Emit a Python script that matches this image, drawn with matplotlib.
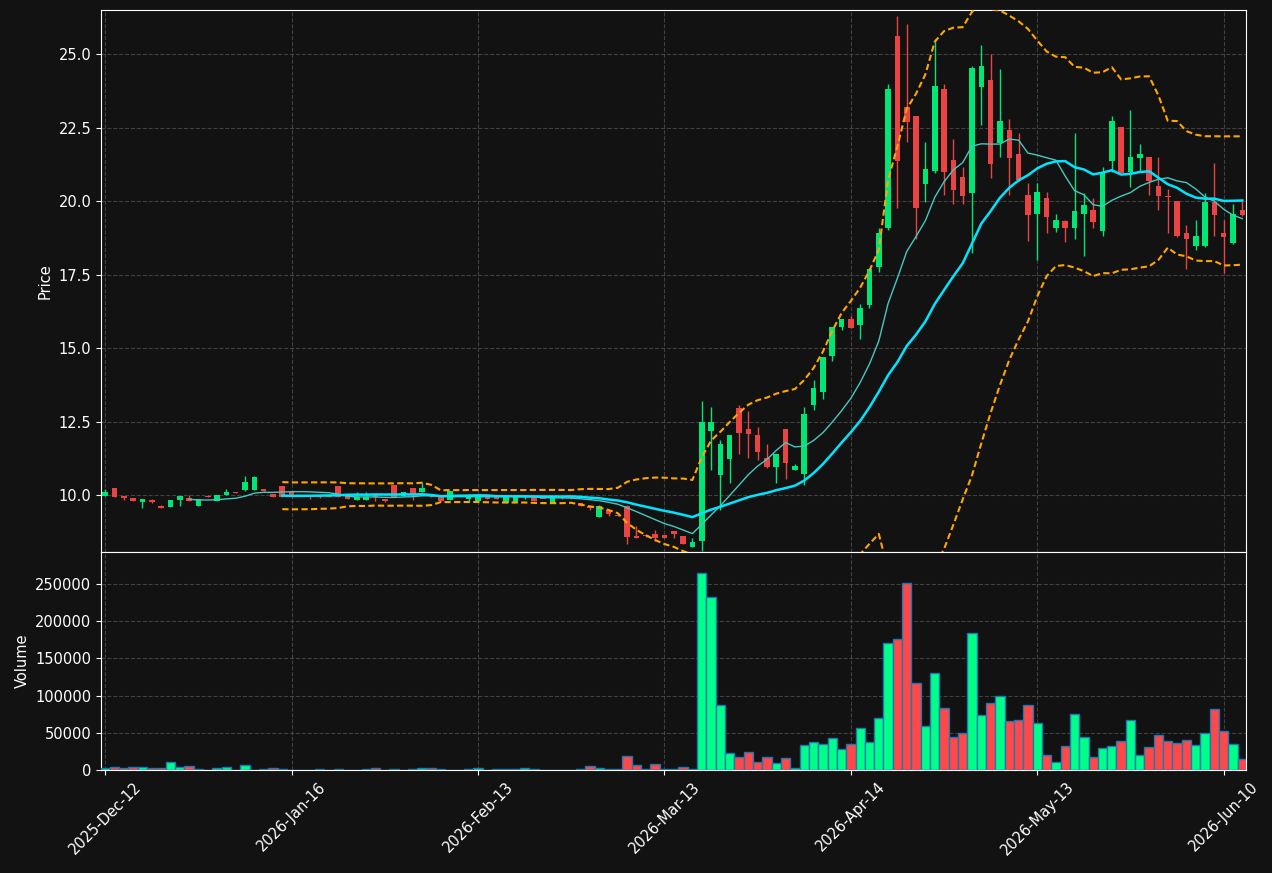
import matplotlib

matplotlib.use("Agg")
import matplotlib.pyplot as plt
import numpy as np
import pandas as pd

# OHLC per trading bar (index 0 = 2025-Dec-12).
OPENS = [
    9.98, 10.24, 9.97, 9.90, 9.76, 9.84, 9.63, 9.60, 9.83, 9.90,
    9.64, 9.98, 9.81, 10.00, 10.10, 10.17, 10.17, 10.20, 10.03, 10.31,
    10.10, 9.98, 9.98, 9.98, 10.00, 10.31, 9.98, 9.84, 9.84, 10.00,
    9.86, 10.34, 9.97, 10.24, 10.10, 10.00, 9.97, 9.83, 10.00, 9.87,
    9.81, 9.94, 9.94, 9.74, 9.77, 9.92, 9.94, 9.87, 9.74, 9.92,
    9.92, 9.72, 9.63, 9.26, 9.49, 9.31, 9.64, 8.62, 8.65, 8.66,
    8.64, 8.78, 8.61, 8.24, 8.45, 12.19, 10.69, 11.23, 12.96, 12.24,
    12.04, 11.26, 10.96, 12.24, 10.86, 10.73, 13.07, 13.50, 14.74, 15.71,
    15.99, 15.78, 16.47, 17.77, 19.09, 25.61, 23.20, 22.89, 20.59, 21.04,
    23.81, 21.39, 20.82, 20.28, 23.89, 24.12, 21.96, 22.41, 21.60, 20.20,
    19.56, 20.09, 19.09, 19.32, 19.09, 19.55, 19.69, 18.99, 21.36, 22.52,
    21.00, 21.47, 21.50, 20.51, 20.17, 20.00, 18.92, 18.48, 18.48, 19.98,
    18.92, 18.58, 19.69,
]
HIGHS = [
    10.19, 10.25, 9.98, 9.91, 9.87, 9.85, 9.66, 9.84, 9.98, 9.99,
    9.86, 9.99, 10.01, 10.20, 10.11, 10.65, 10.65, 10.21, 10.04, 10.32,
    10.11, 10.00, 9.99, 9.99, 10.01, 10.32, 9.99, 10.10, 10.10, 10.01,
    9.87, 10.35, 10.11, 10.25, 10.40, 10.01, 9.98, 10.15, 10.01, 10.05,
    9.95, 9.95, 9.95, 9.95, 9.95, 9.96, 9.95, 9.88, 9.95, 9.93,
    9.93, 9.73, 9.64, 9.65, 9.50, 9.32, 9.65, 8.96, 8.66, 8.80,
    8.65, 8.79, 8.62, 8.52, 13.19, 12.98, 11.88, 12.05, 13.05, 12.86,
    12.32, 11.73, 11.40, 12.25, 11.05, 12.98, 13.91, 14.70, 15.71, 15.99,
    16.08, 16.50, 17.72, 19.07, 24.00, 26.29, 26.02, 22.90, 22.00, 25.50,
    24.00, 22.10, 21.17, 24.60, 25.30, 25.00, 24.50, 22.80, 22.30, 20.60,
    20.60, 20.31, 19.55, 19.35, 22.30, 20.29, 20.09, 21.17, 22.89, 22.53,
    23.10, 21.95, 21.51, 21.50, 20.40, 20.01, 19.17, 19.34, 20.29, 21.28,
    19.34, 19.90, 20.00,
]
LOWS = [
    9.97, 9.93, 9.82, 9.79, 9.57, 9.74, 9.56, 9.58, 9.64, 9.79,
    9.63, 9.93, 9.80, 9.99, 10.07, 10.12, 10.16, 10.12, 9.93, 9.93,
    9.93, 9.95, 9.88, 9.90, 9.93, 9.93, 9.85, 9.83, 9.83, 9.79,
    9.76, 9.93, 9.96, 9.83, 10.09, 9.93, 9.78, 9.82, 9.97, 9.80,
    9.80, 9.86, 9.85, 9.73, 9.76, 9.88, 9.78, 9.85, 9.73, 9.88,
    9.88, 9.62, 9.50, 9.25, 9.30, 9.27, 8.32, 8.54, 8.58, 8.42,
    8.54, 8.52, 8.33, 8.23, 8.10, 10.85, 9.49, 10.40, 11.38, 11.25,
    11.19, 10.92, 10.40, 10.53, 10.85, 10.33, 12.88, 13.27, 14.56, 15.60,
    15.68, 15.30, 16.35, 17.60, 19.00, 19.78, 22.00, 18.70, 19.98, 20.95,
    20.20, 19.89, 19.89, 18.25, 22.60, 20.80, 21.50, 20.20, 20.70, 18.64,
    18.00, 18.90, 18.95, 18.60, 18.70, 18.14, 19.10, 18.80, 21.00, 20.95,
    20.49, 21.00, 20.20, 19.70, 18.92, 18.78, 17.68, 18.34, 18.45, 18.80,
    17.56, 18.55, 19.50,
]
CLOSES = [
    10.10, 9.94, 9.91, 9.81, 9.86, 9.75, 9.57, 9.83, 9.97, 9.80,
    9.85, 9.94, 10.00, 10.10, 10.08, 10.43, 10.61, 10.13, 9.94, 9.94,
    9.94, 9.96, 9.94, 9.94, 9.94, 9.94, 9.86, 9.94, 9.94, 9.92,
    9.81, 9.94, 10.10, 10.03, 10.24, 9.94, 9.81, 10.14, 9.98, 9.97,
    9.94, 9.87, 9.86, 9.94, 9.94, 9.94, 9.79, 9.86, 9.94, 9.90,
    9.90, 9.63, 9.56, 9.64, 9.35, 9.28, 8.58, 8.55, 8.59, 8.54,
    8.55, 8.67, 8.34, 8.41, 12.48, 12.48, 11.73, 12.04, 12.12, 12.09,
    11.47, 10.96, 11.39, 11.08, 10.99, 12.76, 13.64, 14.69, 15.70, 15.98,
    15.69, 16.35, 17.70, 18.90, 23.81, 21.37, 22.70, 19.77, 21.09, 23.91,
    20.99, 20.37, 20.18, 24.52, 24.59, 21.26, 22.72, 21.47, 20.71, 19.52,
    20.31, 19.47, 19.35, 19.09, 19.66, 19.86, 19.30, 20.97, 22.72, 20.97,
    21.50, 21.60, 20.68, 20.17, 20.15, 18.81, 18.72, 18.81, 19.98, 19.52,
    18.79, 19.56, 19.52,
]
VOLUMES = [
    2200, 3600, 2200, 3600, 3600, 2200, 2200, 10300, 3600, 4900,
    900, 300, 2200, 3600, 200, 6300, 200, 900, 2200, 900,
    300, 200, 300, 900, 300, 900, 300, 300, 900, 2200,
    300, 900, 300, 900, 2200, 2200, 900, 300, 200, 900,
    2200, 200, 900, 900, 900, 2200, 900, 200, 300, 200,
    200, 900, 4900, 2200, 900, 900, 18800, 6300, 900, 7600,
    900, 900, 4500, 1300, 264400, 232000, 87000, 22400, 17000, 23700,
    10300, 17000, 9000, 15700, 2200, 33200, 37200, 34500, 42600, 27800,
    34500, 56000, 37200, 69500, 170300, 175600, 250900, 116500, 58700, 130000,
    82900, 43900, 49300, 183700, 73500, 89600, 99000, 65400, 66800, 86900,
    62700, 19700, 10300, 31800, 74800, 43900, 17000, 29100, 31800, 38500,
    66800, 19700, 30500, 46600, 38500, 35800, 39900, 33200, 49300, 81500,
    52000, 34500, 14300,
]
TICK_LABELS = ["2025-Dec-12", "2026-Jan-16", "2026-Feb-13", "2026-Mar-13",
               "2026-Apr-14", "2026-May-13", "2026-Jun-10"]

BG = "#121212"
UP, DOWN = "#00e676", "#ea4343"
VOL_UP, VOL_DOWN = "#00ff88", "#ff4848"
FONT_SIZE = 10.5

plt.rcParams.update({
    "font.family": "DejaVu Sans",
    "font.size": FONT_SIZE,
    "text.color": "white",
    "axes.labelcolor": "white",
    "xtick.color": "white",
    "ytick.color": "white",
})

df = pd.DataFrame({"open": OPENS, "high": HIGHS, "low": LOWS, "close": CLOSES, "volume": VOLUMES})
x = np.arange(len(df))
up = df["close"] >= df["open"]
colors = np.where(up, UP, DOWN)
vol_colors = np.where(up, VOL_UP, VOL_DOWN)

ma10 = df["close"].rolling(10).mean()
ma20 = df["close"].rolling(20).mean()
sd20 = df["close"].rolling(20).std()

fig = plt.figure(figsize=(12.72, 8.73), dpi=100, facecolor=BG)
ax = fig.add_axes([0.0794, 0.3677, 0.9002, 0.6208], facecolor=BG)
axv = fig.add_axes([0.0794, 0.118, 0.9002, 0.2497], facecolor=BG, sharex=ax)

# candles
ax.vlines(x, df["low"], df["high"], colors=colors, linewidth=1.0, zorder=2)
body_lo = np.minimum(df["open"], df["close"])
body_h = np.maximum((df["close"] - df["open"]).abs(), 0.025)
ax.bar(x, body_h, bottom=body_lo, width=0.6, color=colors, linewidth=0, zorder=3)

ax.plot(x, ma10, color="#45c8c0", linewidth=1.0, zorder=4)
ax.plot(x, ma20, color="#00e5ff", linewidth=1.8, zorder=4)
ax.plot(x, ma20 + 2 * sd20, color="#ffa500", linewidth=1.5, linestyle=(0, (3, 1.6)), zorder=4)
ax.plot(x, ma20 - 2 * sd20, color="#ffa500", linewidth=1.5, linestyle=(0, (3, 1.6)), zorder=4)

axv.bar(x, df["volume"], width=1.0, color=vol_colors, edgecolor="#1f77b4", linewidth=1.0, zorder=3)

for a in (ax, axv):
    a.grid(True, color="#555555", linestyle="--", linewidth=0.8, alpha=0.7, zorder=0)
    a.set_axisbelow(True)
    for sp in a.spines.values():
        sp.set_color("white")

ax.set_xlim(-0.45, 122.4)
ax.set_ylim(8.06, 26.5)
ax.set_ylabel("Price")
ax.tick_params(axis="x", bottom=False, labelbottom=False)

axv.set_ylim(0, 293000)
axv.set_ylabel("Volume")
axv.ticklabel_format(axis="y", style="plain", useOffset=False)
axv.set_xticks(np.arange(0, len(df), 20))
axv.set_xticklabels(TICK_LABELS, rotation=45, ha="center")

fig.savefig("out.png", dpi=100, facecolor=BG)
